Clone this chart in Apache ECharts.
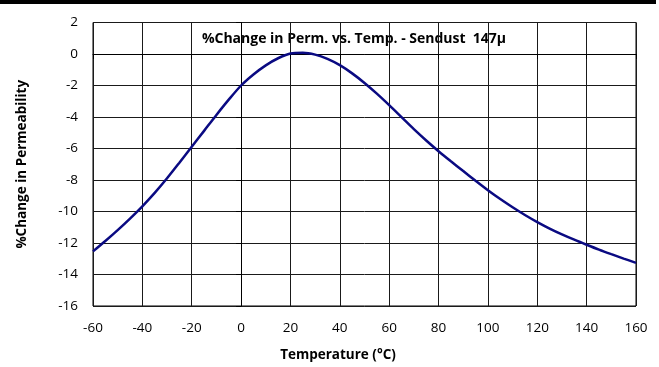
<!DOCTYPE html>
<html>
<head>
<meta charset="utf-8">
<script src="https://cdn.jsdelivr.net/npm/echarts@6/dist/echarts.min.js"></script>
<style>
  html, body { margin: 0; padding: 0; background: #fff; }
  #chart { width: 659px; height: 367px; }
</style>
</head>
<body>
<div id="chart"></div>
<script>
// temperature (°C) and % change in permeability, every 5 °C
const temps = [-60, -55, -50, -45, -40, -35, -30, -25, -20, -15, -10, -5, 0, 5, 10, 15, 20, 25, 30, 35, 40, 45, 50, 55,
  60, 65, 70, 75, 80, 85, 90, 95, 100, 105, 110, 115, 120, 125, 130, 135, 140, 145, 150, 155, 160]
const change = [-12.53, -11.87, -11.18, -10.45, -9.67, -8.82, -7.89, -6.9, -5.89, -4.88, -3.87, -2.9, -2.0, -1.3, -0.72, -0.27, 0.03, 0.08, -0.04, -0.31, -0.71, -1.23,
  -1.84, -2.52, -3.25, -4.01, -4.77, -5.49, -6.17, -6.81, -7.43, -8.05, -8.65, -9.21, -9.73, -10.22, -10.67, -11.08, -11.45, -11.79,
  -12.11, -12.42, -12.71, -12.99, -13.26]

const FONT = '"Open Sans", Lato, sans-serif'
const TITLE = '%Change in Perm. vs. Temp. - Sendust  147\u03bc'

const chart = echarts.init(document.getElementById('chart'), null, { renderer: 'canvas' })

chart.setOption({
  animation: false,
  grid: { left: 93, right: 23, top: 22.5, bottom: 55, show: true, borderColor: '#000', borderWidth: 1 },
  xAxis: {
    type: 'value',
    min: -60,
    max: 160,
    interval: 20,
    name: 'Temperature (°C)',
    nameLocation: 'middle',
    nameGap: 42,
    nameTextStyle: { color: '#000', fontFamily: FONT, fontWeight: 'bold', fontSize: 13.5, padding: [0, 53, 0, 0] },
    axisLine: { lineStyle: { color: '#000' } },
    axisTick: { show: true, length: 5, lineStyle: { color: '#000' } },
    axisLabel: { color: '#000', fontFamily: FONT, fontSize: 13.5, margin: 15 },
    splitLine: { lineStyle: { color: '#1a1a1a', width: 1 } },
  },
  yAxis: {
    type: 'value',
    min: -16,
    max: 2,
    interval: 2,
    name: '%Change in Permeability',
    nameLocation: 'middle',
    nameGap: 64,
    nameTextStyle: { color: '#000', fontFamily: FONT, fontWeight: 'bold', fontSize: 13.5 },
    axisLine: { show: true, lineStyle: { color: '#000' } },
    axisTick: { show: true, length: 5, lineStyle: { color: '#000' } },
    axisLabel: { color: '#000', fontFamily: FONT, fontSize: 13.5, margin: 15 },
    splitLine: { lineStyle: { color: '#1a1a1a', width: 1 } },
  },
  graphic: [
    { type: 'rect', left: 0, top: 0, shape: { width: 656, height: 4 }, style: { fill: '#000' } },
    {
      type: 'group',
      left: 190,
      top: 24,
      z: 100,
      children: [
        { type: 'rect', shape: { x: 0, y: 0, width: 322, height: 28 }, style: { fill: '#fff' } },
        {
          type: 'text',
          x: 164,
          y: 15,
          style: {
            text: TITLE,
            align: 'center',
            verticalAlign: 'middle',
            fill: '#000',
            font: 'bold 14px ' + FONT,
          },
        },
      ],
    },
  ],
  series: [{
    type: 'line',
    data: temps.map((t, i) => [t, change[i]]),
    smooth: 0.3,
    showSymbol: false,
    lineStyle: { color: '#0a0a82', width: 2.5 },
    z: 5,
  }],
})
</script>
</body>
</html>
